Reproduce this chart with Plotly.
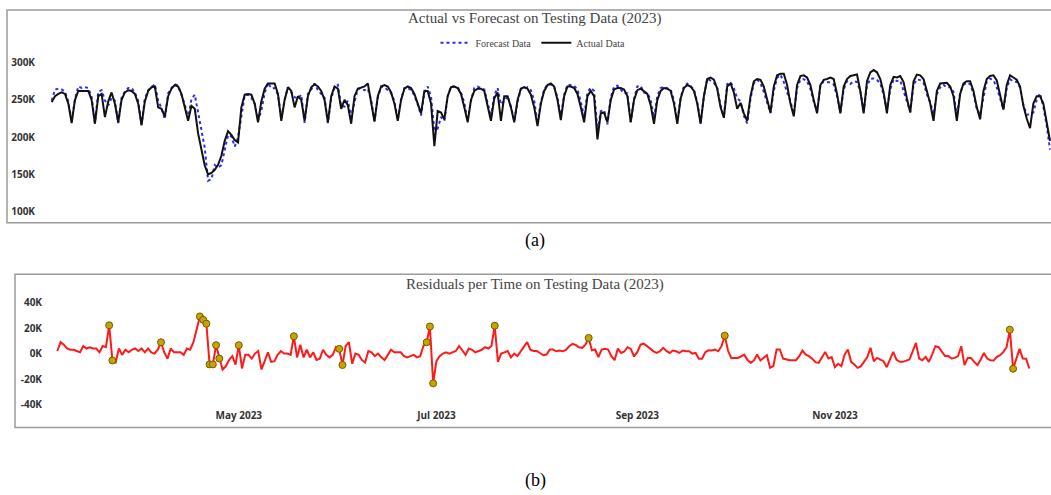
import pandas as pd
import plotly.graph_objects as go

# ---------------- data (values in thousands) ----------------
start_date = "2023-03-06"

actual_k = [
    247, 255, 258, 260, 258, 245, 219, 250, 262, 262, 262, 262, 250, 218, 255, 258, 227, 248, 260, 245,
    220, 250, 260, 263, 262, 258, 245, 216, 248, 262, 267, 268, 240, 238, 228, 255, 265, 270, 268, 258,
    240, 222, 242, 238, 205, 182, 162, 150, 152, 156, 163, 175, 195, 208, 203, 196, 193, 240, 257, 258,
    257, 245, 220, 248, 265, 272, 272, 272, 258, 222, 250, 267, 262, 240, 255, 250, 222, 255, 267, 271,
    268, 262, 250, 220, 255, 268, 265, 238, 250, 243, 218, 255, 265, 266, 268, 272, 248, 221, 255, 268,
    270, 268, 260, 245, 222, 250, 265, 268, 266, 258, 245, 232, 262, 262, 245, 188, 235, 233, 224, 255,
    267, 268, 266, 258, 240, 220, 250, 262, 265, 265, 262, 243, 222, 252, 260, 222, 255, 255, 240, 220,
    250, 265, 267, 265, 257, 240, 215, 245, 262, 270, 272, 268, 250, 223, 255, 268, 268, 266, 258, 240,
    220, 255, 262, 255, 197, 232, 233, 220, 250, 264, 266, 266, 264, 255, 220, 250, 263, 265, 262, 258,
    243, 218, 250, 262, 266, 265, 262, 245, 218, 252, 266, 270, 268, 262, 245, 218, 255, 278, 280, 277,
    265, 240, 226, 268, 272, 260, 238, 246, 232, 222, 255, 275, 278, 277, 268, 250, 233, 268, 283, 285,
    285, 270, 245, 228, 270, 282, 283, 280, 270, 250, 232, 270, 277, 278, 280, 278, 258, 232, 268, 278,
    282, 283, 284, 262, 232, 275, 287, 290, 287, 278, 260, 232, 270, 281, 280, 282, 274, 252, 233, 275,
    284, 283, 278, 262, 245, 222, 262, 272, 273, 273, 268, 255, 222, 258, 272, 275, 275, 262, 240, 224,
    262, 278, 282, 283, 276, 256, 237, 270, 283, 280, 277, 268, 242, 225, 212, 245, 255, 255, 245, 220,
    195,
]

# residual = forecast - actual (thousands)
residual_k = [
    2, 9, 7, 4, 3, 3, 2, 1, 6, 4, 5, 4, 4, 1, 6, 5, 22.2, -5.4, -7, 4,
    -1, 3, 1, 3, 4, 2, 4, 1, 4, 1, 0, 3, 8.9, 1, -4, 4, 1, 1, 1, -1,
    4, 3, 9, 19, 29.2, 26.6, 23.5, -8.5, -8.5, 6.6, -3.9, -12.5, -10, -5, -2, -8.6, 6.6, -11.7, -1, -1,
    -4, 0, 2, -12.5, -6, 1, -6.5, -6, -1, 2, 0, 0, -1, 13.6, -3, 7, -3, 3, -3, 1,
    -5, -4, 3, -1, -3, -1, 5, 3.7, -9, 6, 9, -8, 0, -1, -5, -7, 2, 1, -2, 0,
    -3, -5, -1, 3, 1, 1, 1, -2, -3, -2, -1, -3, -2, 6, 8.9, 21.3, -23.4, -6, -2, 0,
    1, 0, 1, 2, 6, 2, -1, 4, 3, 1, 2, 3, 5, 4, 6, 21.9, -6.5, 0, 1, 2,
    -3, 0, -2, 2, 6, 9, 3, 2, 2, 0.5, -1.3, -0.8, 3.2, 3.2, 1.8, 2.4, 1.8, 2.9, 5.8, 7.6,
    6.8, 5, 4.5, 7, 12.3, 2.6, 3.2, -2.8, 3.2, 3.7, 3.2, -2, -5.2, 3.9, 0.5, 1.6, 5, 3.7, -2.3, 1.1,
    7, 7.8, 5.5, 3.9, 1.8, 0.5, 1.8, 4.5, 2.1, 0.5, 2.4, 1.8, 0.5, 2.4, 1.8, 1.8, 0, 0.5, -4.1, -4.1,
    1.1, 2.6, 2.4, 3.2, 1.8, 5.8, 14.1, 2.4, -3.4, -3.4, -3.4, -2.3, -0.8, -4.9, -7.3, -5.4, -0.8, -5.4, -3.4, -1.3,
    -11.2, -9.9, 3.2, 3.2, -3.9, -4.7, -5.2, -5.2, -5.2, -2, 2.4, -0.8, -2, -4.1, -6.7, -7.3, -2.8, 1.3, -3.9, -2.8,
    -10.7, -8, -9.9, -0.8, 3.2, -6.5, -8.6, -11.2, -10.1, -6, -2.8, 4.5, -6, -3.4, -4.7, -6, -10.7, -4.1, 1.3, -4.7,
    -6.5, -6.5, -5.4, -4.7, 1.8, 8.4, -3.9, -5.2, -2.6, -6.5, -0.8, 5.8, 5, 1.8, -2, -2, -3.9, -3.4, -2, 5.8,
    -9.1, -3.4, -3.4, -6.5, -9.1, -4.7, 0.5, -3.9, -5.2, -5.4, -2.6, -1.3, 1.3, 5, 18.8, -11.9, -4.7, 3.7, -3.9, -4.1,
    -11.7,
]

outlier_idx = [16, 17, 32, 44, 45, 46, 47, 48, 49, 50, 56, 73, 87, 88,
               114, 115, 116, 135, 164, 206, 294, 295]

top_yticks = [100, 150, 200, 250, 300]
top_ytext = ["100K", "150K", "200K", "250K", "300K"]
bottom_yticks = [-40, -20, 0, 20, 40]
bottom_ytext = ["-40K", "-20K", "0K", "20K", "40K"]
bottom_xticks = ["2023-05-01", "2023-07-01", "2023-09-01", "2023-11-01"]
bottom_xtext = ["May 2023", "Jul 2023", "Sep 2023", "Nov 2023"]

# ---------------- figure ----------------
dates = pd.date_range(start_date, periods=len(actual_k), freq="D")
forecast_k = [a + r for a, r in zip(actual_k, residual_k)]

W, H = 1051, 495


def px(x):
    return x / W


def py(y):
    return 1 - y / H


def day_offset(d):
    return (dates[0] + pd.Timedelta(days=d)).strftime("%Y-%m-%d %H:%M:%S")


fig = go.Figure()
fig.add_trace(go.Scatter(
    x=dates, y=forecast_k, name="Forecast Data", mode="lines",
    line=dict(color="#2b2bff", width=2, dash="dot"), xaxis="x", yaxis="y"))
fig.add_trace(go.Scatter(
    x=dates, y=actual_k, name="Actual Data", mode="lines",
    line=dict(color="#111111", width=2), xaxis="x", yaxis="y"))
fig.add_trace(go.Scatter(
    x=dates, y=residual_k, mode="lines", showlegend=False,
    line=dict(color="#ff1a1a", width=2), xaxis="x2", yaxis="y2"))
fig.add_trace(go.Scatter(
    x=[dates[i] for i in outlier_idx], y=[residual_k[i] for i in outlier_idx],
    mode="markers", showlegend=False,
    marker=dict(color="#c9a400", size=7, line=dict(color="#6e5c00", width=1)),
    xaxis="x2", yaxis="y2"))

tick_font = dict(family="Open Sans", size=10, color="#333333", weight="bold")

fig.update_layout(
    width=W, height=H,
    margin=dict(l=0, r=0, t=0, b=0),
    paper_bgcolor="white", plot_bgcolor="white",
    xaxis=dict(domain=[px(40), 1], range=[day_offset(-3.51), day_offset(300.3)],
               showticklabels=False, showgrid=False, zeroline=False, showline=False,
               anchor="y"),
    yaxis=dict(domain=[py(218), py(55)], range=[93.33, 310.67],
               tickvals=top_yticks, ticktext=top_ytext, tickfont=tick_font,
               ticklabelstandoff=4,
               showgrid=False, zeroline=False, showline=False, anchor="x"),
    xaxis2=dict(domain=[px(46), 1], range=[day_offset(-3.5), day_offset(306.7)],
                tickvals=bottom_xticks, ticktext=bottom_xtext, tickfont=tick_font,
                showgrid=False, zeroline=False, showline=False, anchor="y2"),
    yaxis2=dict(domain=[py(410), py(292)], range=[-42.4, 49.8],
                tickvals=bottom_yticks, ticktext=bottom_ytext, tickfont=tick_font,
                ticklabelstandoff=3,
                showgrid=False, zeroline=False, showline=False, anchor="x2"),
    legend=dict(orientation="h", x=px(533), y=py(43), xanchor="center", yanchor="middle",
                font=dict(family="Liberation Serif", size=10, color="#444444"),
                bgcolor="rgba(0,0,0,0)", itemwidth=30, traceorder="normal"),
    showlegend=True,
    shapes=[
        dict(type="rect", xref="paper", yref="paper", x0=px(7), x1=1.02, y0=py(224), y1=py(10),
             line=dict(color="#9a9a9a", width=1.5), fillcolor="rgba(0,0,0,0)", layer="below"),
        dict(type="rect", xref="paper", yref="paper", x0=px(15), x1=1.02, y0=py(430), y1=py(276),
             line=dict(color="#9a9a9a", width=1.5), fillcolor="rgba(0,0,0,0)", layer="below"),
    ],
    annotations=[
        dict(text="Actual vs Forecast on Testing Data (2023)", x=px(535), y=py(19),
             xref="paper", yref="paper", showarrow=False, xanchor="center", yanchor="middle",
             font=dict(family="Liberation Serif", size=15, color="#444444")),
        dict(text="Residuals per Time on Testing Data (2023)", x=px(535), y=py(286),
             xref="paper", yref="paper", showarrow=False, xanchor="center", yanchor="middle",
             font=dict(family="Liberation Serif", size=15, color="#444444")),
        dict(text="(a)", x=px(535), y=py(242), xref="paper", yref="paper", showarrow=False,
             xanchor="center", yanchor="middle",
             font=dict(family="Liberation Serif", size=18, color="black")),
        dict(text="(b)", x=px(535), y=py(483), xref="paper", yref="paper", showarrow=False,
             xanchor="center", yanchor="middle",
             font=dict(family="Liberation Serif", size=18, color="black")),
    ],
)

# remove the default page margin so the 1051x495 figure fills the window exactly
fig.write_html(
    "out.html",
    config={"displayModeBar": False},
    post_script="document.body.style.margin='0';document.body.style.overflow='hidden';",
)
